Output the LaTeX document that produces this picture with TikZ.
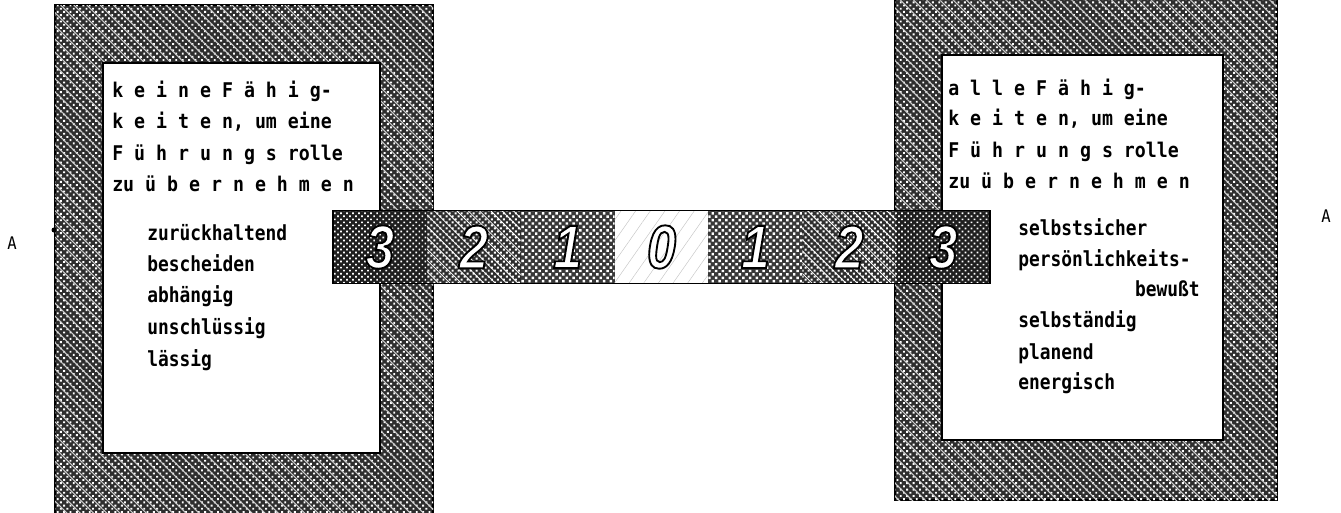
\documentclass[tikz,border=0pt]{standalone}
\usepackage{fontspec}
\setmainfont{DejaVu Sans}
\newfontfamily\monof[FakeStretch=0.9]{DejaVu Sans Mono}
\newfontfamily\listf[FakeStretch=0.86]{DejaVu Sans Mono}
\newfontfamily\digitf[FakeStretch=0.85]{Liberation Sans}
\usetikzlibrary{patterns.meta}
\tikzset{
  framebox/.style={draw=black, line width=1.2pt, inner sep=0pt, outer sep=0pt,
    fill=black!82,
    postaction={pattern={Dots[radius=1pt,distance=3.4pt,angle=45]}, pattern color=white},
    postaction={pattern={Lines[angle=-45,distance=7pt,line width=0.8pt]}, pattern color=white!80!black}},
  innerbox/.style={draw=black, line width=1pt, fill=white, inner sep=0pt, outer sep=0pt},
  cellbase/.style={inner sep=0pt, outer sep=0pt, minimum width=70.4pt, minimum height=54.75pt},
  cellthree/.style={cellbase, fill=black!88,
    postaction={pattern={Dots[radius=0.9pt,distance=3.2pt,angle=45]}, pattern color=white}},
  celltwo/.style={cellbase, fill=black!82,
    postaction={pattern={Dots[radius=1.05pt,distance=3.2pt,angle=45]}, pattern color=white},
    postaction={pattern={Lines[angle=-45,distance=6pt,line width=0.6pt]}, pattern color=white}},
  cellone/.style={cellbase, fill=black!78,
    postaction={pattern={Dots[radius=1.3pt,distance=3.6pt,angle=45]}, pattern color=white}},
  cellzero/.style={cellbase, fill=white,
    postaction={pattern={Lines[angle=55,distance=9pt,line width=0.35pt]}, pattern color=black!22}},
  digitstyle/.style={inner sep=0pt, text=white, font=\digitf\bfseries\itshape\fontsize{46}{46}\selectfont},
  headtext/.style={inner sep=0pt, anchor=base west, font=\monof\bfseries\fontsize{15.2}{16}\selectfont},
  listtext/.style={inner sep=0pt, anchor=base west, font=\listf\bfseries\fontsize{15.6}{17}\selectfont},
  marktext/.style={inner sep=0pt, font=\monof\fontsize{13}{14}\selectfont},
}
\newcommand\outl[1]{\special{pdf:code 0 0 0 RG 2 Tr 1.4 w}#1\special{pdf:code 0 Tr}}
\begin{document}
\begin{tikzpicture}[x=0.75pt,y=-0.75pt]
\useasboundingbox (0,0) rectangle (1341,512);
\fill[white] (0,0) rectangle (1341,512);

% left frame
\node[framebox, minimum width=283.5pt, minimum height=381.75pt] (lout) at (244,259.5) {};
\node[innerbox, minimum width=207.75pt, minimum height=292.5pt] (lin) at (241.5,258) {};
% right frame
\node[framebox, minimum width=286.5pt, minimum height=378.75pt] (rout) at (1086,247.5) {};
\node[innerbox, minimum width=210.75pt, minimum height=288.75pt] (rin) at (1082.5,247.5) {};

% left texts
\node[headtext] (lh1) at (112,97)  {k e i n e F ä h i g-};
\node[headtext] (lh2) at (112,128) {k e i t e n, um eine};
\node[headtext] (lh3) at (112,160) {F ü h r u n g s rolle};
\node[headtext] (lh4) at (112,191) {zu ü b e r n e h m e n};
\node[listtext] (ll1) at (147,240) {zurückhaltend};
\node[listtext] (ll2) at (147,271) {bescheiden};
\node[listtext] (ll3) at (147,302) {abhängig};
\node[listtext] (ll4) at (147,334) {unschlüssig};
\node[listtext] (ll5) at (147,366) {lässig};

% right texts
\node[headtext] (rh1) at (948,95)  {a l l e F ä h i g-};
\node[headtext] (rh2) at (948,125) {k e i t e n, um eine};
\node[headtext] (rh3) at (948,157) {F ü h r u n g s rolle};
\node[headtext] (rh4) at (948,188) {zu ü b e r n e h m e n};
\node[listtext] (rl1) at (1018,235) {selbstsicher};
\node[listtext] (rl2) at (1018,266) {persönlichkeits-};
\node[listtext, anchor=base east] (rl3) at (1200,296) {bewußt};
\node[listtext] (rl4) at (1018,327) {selbständig};
\node[listtext] (rl5) at (1018,359) {planend};
\node[listtext] (rl6) at (1018,389) {energisch};

% scale bar
\node[cellthree] (k1) at (379.9,247) {};
\node[celltwo]   (k2) at (473.8,247) {};
\node[cellone]   (k3) at (567.7,247) {};
\node[cellzero]  (k4) at (661.5,247) {};
\node[cellone]   (k5) at (755.4,247) {};
\node[celltwo]   (k6) at (849.2,247) {};
\node[cellthree] (k7) at (943.1,247) {};
\draw[line width=1.2pt] (k1.north west) rectangle (k7.south east);
\node[digitstyle] (d1) at (k1) {\outl{3}};
\node[digitstyle] (d2) at (k2) {\outl{2}};
\node[digitstyle] (d3) at (k3) {\outl{1}};
\node[digitstyle] (d4) at (k4) {\outl{0}};
\node[digitstyle] (d5) at (k5) {\outl{1}};
\node[digitstyle] (d6) at (k6) {\outl{2}};
\node[digitstyle] (d7) at (k7) {\outl{3}};

% margin marks
\node[marktext] (ma) at (12,243) {A};
\node[marktext] (mb) at (1326,216) {A};
\fill (54,230) circle (2.5);
\end{tikzpicture}
\end{document}
